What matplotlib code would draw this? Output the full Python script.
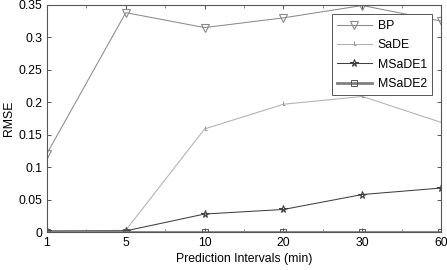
import matplotlib
matplotlib.use("Agg")
import matplotlib.pyplot as plt
import numpy as np
from matplotlib.path import Path

plt.rcParams['font.family'] = ['Liberation Sans', 'DejaVu Sans']

intervals = ["1", "5", "10", "20", "30", "60"]
bp = [0.121, 0.338, 0.315, 0.330, 0.349, 0.325]
sade = [0.001, 0.003, 0.159, 0.197, 0.209, 0.169]
msade1 = [0.002, 0.002, 0.028, 0.035, 0.058, 0.068]
msade2 = [0.001, 0.001, 0.001, 0.001, 0.001, 0.001]

# L-shaped marker for SaDE
l_marker = Path([(0, 1), (0, -0.4), (0.7, -0.4)],
                [Path.MOVETO, Path.LINETO, Path.LINETO])

x = np.arange(1, len(intervals) + 1)

fig = plt.figure(figsize=(4.47, 2.70), dpi=100)
ax = fig.add_axes([0.105, 0.14, 0.882, 0.842])

ax.plot(x, bp, color='#8a8a8a', lw=0.75, marker='v', ms=5.5, mfc='none',
        mec='#8a8a8a', mew=0.8, label='BP')
ax.plot(x, sade, color='#b0b0b0', lw=0.75, marker=l_marker, ms=5, mfc='none',
        mec='#9a9a9a', mew=0.8, label='SaDE')
ax.plot(x, msade1, color='#404040', lw=0.75, marker='*', ms=5.5, mfc='none',
        mec='#404040', mew=0.8, label='MSaDE1')
ax.plot(x, msade2, color='#808080', lw=2.0, marker='s', ms=4.5, mfc='none',
        mec='#555555', mew=0.7, label='MSaDE2')

ax.set_xlim(1, 6)
ax.set_ylim(0, 0.35)
ax.set_xticks(x)
ax.set_xticklabels(intervals)
ax.set_xticks(x[:-1] + 0.5, minor=True)
ax.set_yticks(np.arange(0, 0.351, 0.05))
ax.set_yticklabels(['0', '0.05', '0.1', '0.15', '0.2', '0.25', '0.3', '0.35'])
ax.tick_params(direction='in', top=True, right=True, labelsize=8.8,
               length=3, color='#555555', width=0.7)
ax.tick_params(which='minor', direction='in', top=True, bottom=True,
               length=2.5, color='#777777', width=0.6)
for s in ax.spines.values():
    s.set_color('#555555')
    s.set_linewidth(0.8)

ax.set_xlabel('Prediction Intervals (min)', fontsize=8.8, labelpad=3)
ax.set_ylabel('RMSE', fontsize=8.8, labelpad=2)

leg = ax.legend(loc='upper right', bbox_to_anchor=(0.993, 0.985), fontsize=8.8,
                fancybox=False, framealpha=1, edgecolor='#555555',
                handlelength=2.8, borderpad=0.45, labelspacing=0.6,
                handletextpad=0.5)
leg.get_frame().set_linewidth(0.7)

fig.savefig('out.png', dpi=100)
